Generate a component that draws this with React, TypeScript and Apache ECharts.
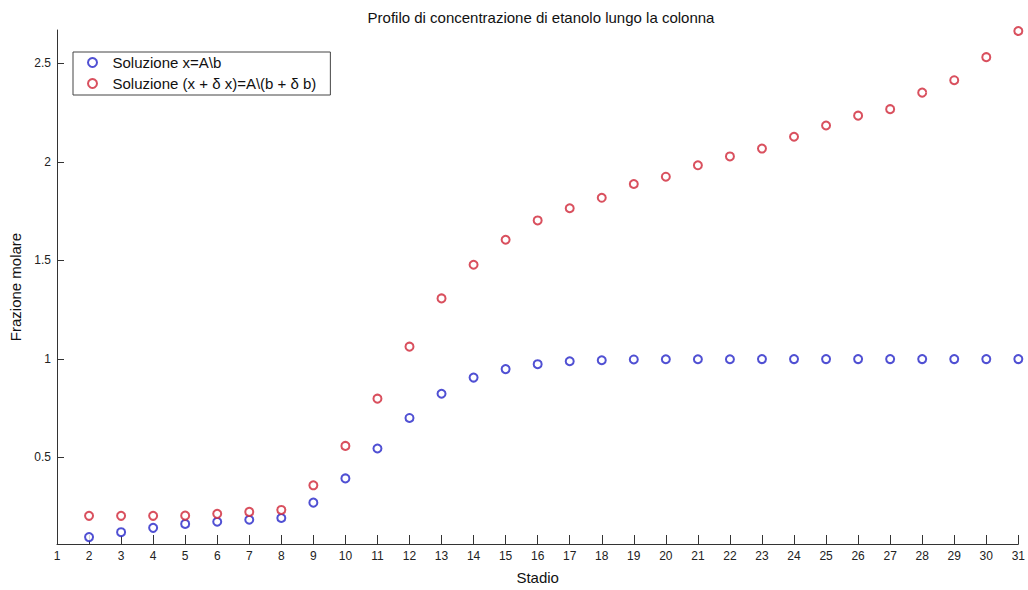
import React, { useEffect, useRef } from "react";
import * as echarts from "echarts";

const stages = [2, 3, 4, 5, 6, 7, 8, 9, 10, 11, 12, 13, 14, 15, 16, 17, 18, 19, 20, 21, 22, 23, 24, 25, 26, 27, 28, 29, 30, 31];
const solX = [0.095, 0.12, 0.142, 0.162, 0.173, 0.183, 0.192, 0.27, 0.393, 0.545, 0.70, 0.823, 0.905, 0.948, 0.973, 0.988, 0.993, 0.997, 0.998, 0.998, 0.998, 0.999, 0.999, 0.999, 0.999, 0.999, 0.999, 0.999, 0.999, 0.999];
const solPert = [0.203, 0.203, 0.203, 0.204, 0.213, 0.223, 0.233, 0.358, 0.558, 0.798, 1.062, 1.307, 1.478, 1.605, 1.703, 1.765, 1.818, 1.888, 1.925, 1.983, 2.028, 2.068, 2.128, 2.185, 2.235, 2.268, 2.352, 2.415, 2.532, 2.665];
const yTicks = [0.5, 1, 1.5, 2, 2.5];
const seriesNames = ["Soluzione x=A\\b", "Soluzione (x + δ x)=A\\(b + δ b)"];

const FONT = "'Liberation Sans', Arial, sans-serif";

export default function App() {
  const ref = useRef<HTMLDivElement>(null);
  useEffect(() => {
    if (!ref.current) return;
    const chart = echarts.init(ref.current, null, { renderer: "svg" });
    chart.setOption({
      animation: false,
      backgroundColor: "#ffffff",
      textStyle: { fontFamily: FONT },
      title: {
        text: "Profilo di concentrazione di etanolo lungo la colonna",
        left: 536,
        top: 5,
        textAlign: "center",
        textStyle: { fontFamily: FONT, fontSize: 15, fontWeight: "normal", color: "#111" },
      },
      legend: {
        orient: "vertical",
        left: 73,
        top: 52,
        padding: [3, 14, 4, 14],
        itemGap: 6,
        itemWidth: 30,
        itemHeight: 9,
        backgroundColor: "#fff",
        borderColor: "#444",
        borderWidth: 1,
        textStyle: { fontFamily: FONT, fontSize: 15, color: "#111" },
        data: seriesNames,
      },
      grid: { left: 53, right: 7, top: 30, bottom: 38, containLabel: false },
      xAxis: {
        type: "value",
        min: 1,
        max: 31,
        interval: 1,
        name: "Stadio",
        nameLocation: "middle",
        nameGap: 26,
        nameTextStyle: { fontFamily: FONT, fontSize: 15, color: "#111" },
        axisLine: { show: true, lineStyle: { color: "#333", width: 1 } },
        axisTick: { show: true, inside: true, length: 9, lineStyle: { color: "#333" } },
        axisLabel: { fontFamily: FONT, fontSize: 12, color: "#222", margin: 6 },
        splitLine: { show: false },
      },
      yAxis: {
        type: "value",
        min: 0.06,
        max: 2.67,
        name: "Frazione molare",
        nameLocation: "middle",
        nameGap: 34,
        nameRotate: 90,
        nameTextStyle: { fontFamily: FONT, fontSize: 15, color: "#111" },
        axisLine: { show: true, lineStyle: { color: "#333", width: 1 } },
        axisTick: { show: true, inside: true, length: 7, customValues: yTicks, lineStyle: { color: "#333" } },
        axisLabel: {
          fontFamily: FONT,
          fontSize: 12,
          color: "#222",
          margin: 6,
          customValues: yTicks,
          formatter: (v: number) => String(v),
        },
        splitLine: { show: false },
      },
      series: [
        {
          name: seriesNames[0],
          type: "scatter",
          symbol: "emptyCircle",
          symbolSize: 8,
          itemStyle: { color: "#2424c8", borderWidth: 1.1 },
          data: stages.map((s, i) => [s, solX[i]]),
        },
        {
          name: seriesNames[1],
          type: "scatter",
          symbol: "emptyCircle",
          symbolSize: 8,
          itemStyle: { color: "#d02436", borderWidth: 1.1 },
          data: stages.map((s, i) => [s, solPert[i]]),
        },
      ],
    });
    return () => chart.dispose();
  }, []);
  return (
    <div
      ref={ref}
      style={{ position: "fixed", left: 0, top: 0, width: 1028, height: 590, background: "#fff" }}
    />
  );
}
